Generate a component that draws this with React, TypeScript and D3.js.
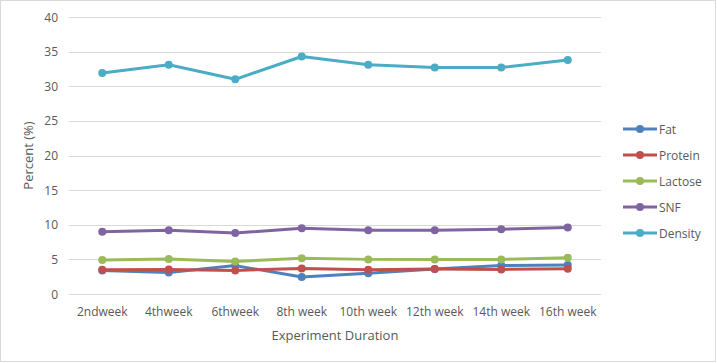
import React from 'react';
import * as d3 from 'd3';

const weeks = ['2ndweek', '4thweek', '6thweek', '8th week', '10th week', '12th week', '14th week', '16th week'];

const fat = [3.4, 3.1, 4.1, 2.45, 3.0, 3.6, 4.1, 4.2];
const protein = [3.5, 3.55, 3.4, 3.7, 3.5, 3.6, 3.55, 3.65];
const lactose = [4.9, 5.05, 4.7, 5.15, 5.0, 5.0, 5.0, 5.25];
const snf = [9.0, 9.2, 8.8, 9.5, 9.2, 9.2, 9.35, 9.6];
const density = [31.9, 33.1, 31.0, 34.3, 33.1, 32.7, 32.7, 33.8];

const yTicks = [0, 5, 10, 15, 20, 25, 30, 35, 40];

const seriesNames = ['Fat', 'Protein', 'Lactose', 'SNF', 'Density'];
const seriesValues = [fat, protein, lactose, snf, density];
const seriesColors = ['#4f81bd', '#c0504d', '#9bbb59', '#8064a2', '#4bacc6'];

const W = 717;
const H = 363;
const plot = { left: 69, right: 601, top: 17, bottom: 294 };
const font = '"Open Sans", sans-serif';
const textColor = '#595959';

export default function App() {
  const x = d3.scaleBand<string>().domain(weeks).range([plot.left, plot.right]);
  const y = d3.scaleLinear().domain([0, 40]).range([plot.bottom, plot.top]);
  const cx = (w: string) => (x(w) ?? 0) + x.bandwidth() / 2;

  const line = d3.line<number>()
    .x((_, i) => cx(weeks[i]))
    .y(d => y(d));

  return (
    <svg width={W} height={H} style={{ position: 'absolute', left: 0, top: 0 }} fontFamily={font}>
      <rect x={0.5} y={0.5} width={W - 2} height={H - 2} fill="#fff" stroke="#d9d9d9" />
      {yTicks.map(t => (
        <g key={t}>
          <line x1={plot.left} x2={plot.right} y1={Math.round(y(t)) + 0.5} y2={Math.round(y(t)) + 0.5} stroke="#d9d9d9" />
          <text x={58} y={y(t) + 4.5} textAnchor="end" fontSize={12} fill={textColor}>{t}</text>
        </g>
      ))}
      {weeks.map(w => (
        <text key={w} x={cx(w)} y={316} textAnchor="middle" fontSize={12} fill={textColor}>{w}</text>
      ))}
      <text x={(plot.left + plot.right) / 2} y={340} textAnchor="middle" fontSize={13} fill={textColor}>Experiment Duration</text>
      <text transform={`translate(33,${(plot.top + plot.bottom) / 2}) rotate(-90)`} textAnchor="middle" fontSize={13} fill={textColor}>Percent (%)</text>
      {seriesValues.map((vals, si) => (
        <g key={seriesNames[si]}>
          <path d={line(vals) ?? ''} fill="none" stroke={seriesColors[si]} strokeWidth={3} strokeLinejoin="round" />
          {vals.map((v, i) => (
            <circle key={i} cx={cx(weeks[i])} cy={y(v)} r={4} fill={seriesColors[si]} />
          ))}
        </g>
      ))}
      {seriesNames.map((name, si) => {
        const ly = 129 + si * 26;
        return (
          <g key={name}>
            <line x1={623} x2={657} y1={ly} y2={ly} stroke={seriesColors[si]} strokeWidth={3} />
            <circle cx={640} cy={ly} r={4} fill={seriesColors[si]} />
            <text x={659} y={ly + 4.5} fontSize={12} fill={textColor}>{name}</text>
          </g>
        );
      })}
    </svg>
  );
}
